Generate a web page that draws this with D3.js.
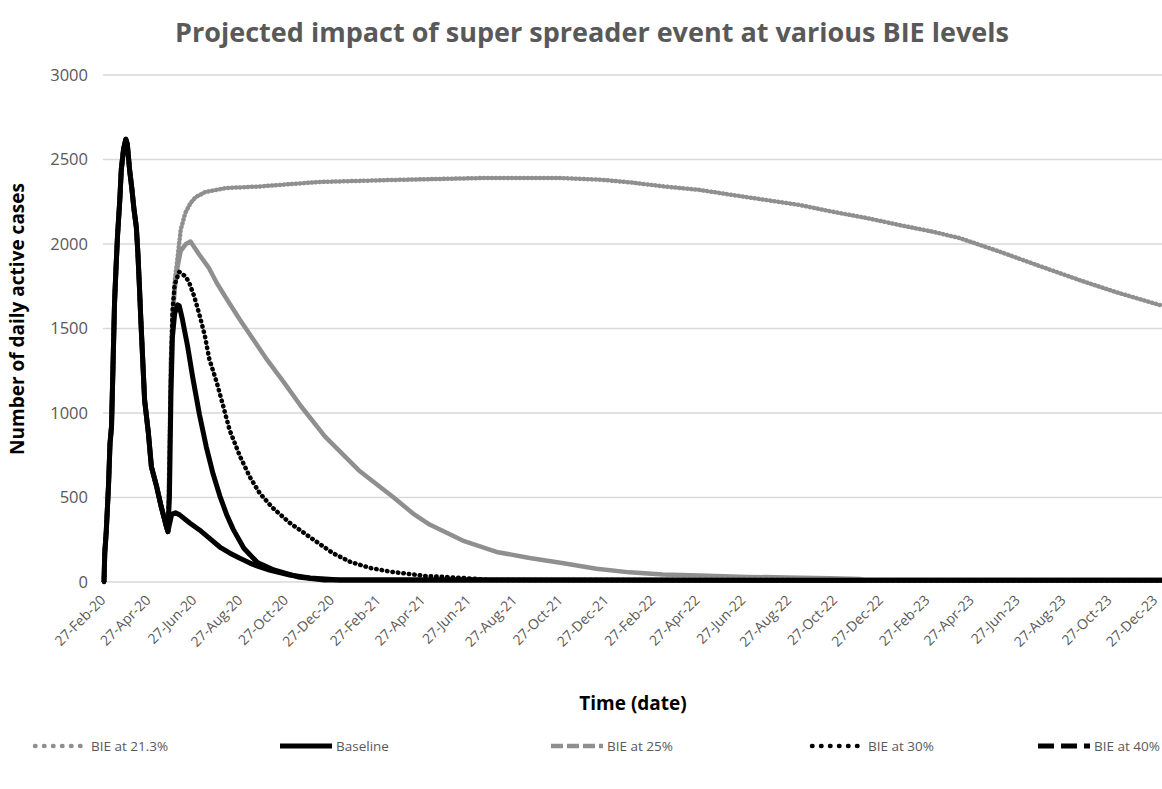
<!DOCTYPE html>
<html>
<head>
<meta charset="utf-8">
<script src="https://cdn.jsdelivr.net/npm/d3@7"></script>
<style>
  body { margin: 0; background: #fff; }
  text { font-family: "Open Sans", sans-serif; }
</style>
</head>
<body>
<script>
// values, [date, daily active cases]
// all scenarios share the same curve up to the super spreader event (~22 May 2020)
var preEvent = [
  ["2020-02-27", 0], ["2020-02-28", 170], ["2020-03-01", 300], ["2020-03-04", 570],
  ["2020-03-06", 820], ["2020-03-08", 920], ["2020-03-10", 1280], ["2020-03-12", 1650],
  ["2020-03-14", 1860], ["2020-03-16", 2050], ["2020-03-19", 2260], ["2020-03-21", 2440],
  ["2020-03-24", 2560], ["2020-03-27", 2620], ["2020-03-29", 2590], ["2020-04-01", 2440],
  ["2020-04-04", 2330], ["2020-04-07", 2200], ["2020-04-10", 2100], ["2020-04-12", 1950],
  ["2020-04-14", 1760], ["2020-04-16", 1550], ["2020-04-21", 1077], ["2020-04-26", 882],
  ["2020-04-30", 683], ["2020-05-07", 565], ["2020-05-13", 447], ["2020-05-20", 328],
  ["2020-05-22", 298]
];

var baselineAfter = [
  ["2020-05-24", 340], ["2020-05-27", 400], ["2020-06-01", 410], ["2020-06-07", 396],
  ["2020-06-20", 349], ["2020-07-03", 308], ["2020-07-16", 260], ["2020-07-30", 207],
  ["2020-08-12", 172], ["2020-08-25", 142], ["2020-09-08", 112], ["2020-09-21", 89],
  ["2020-10-04", 71], ["2020-10-31", 41], ["2020-11-27", 24], ["2021-01-06", 12],
  ["2024-01-04", 10]
];

var bie213After = [
  ["2020-05-24", 700], ["2020-05-26", 1300], ["2020-05-28", 1550], ["2020-05-31", 1780],
  ["2020-06-03", 1886], ["2020-06-08", 2083], ["2020-06-14", 2183], ["2020-06-21", 2242],
  ["2020-06-28", 2278], ["2020-07-11", 2308], ["2020-08-07", 2331], ["2020-09-20", 2340],
  ["2020-11-03", 2355], ["2020-12-09", 2367], ["2021-03-27", 2380], ["2021-07-12", 2390],
  ["2021-10-27", 2390], ["2021-12-20", 2380], ["2022-01-30", 2363], ["2022-03-16", 2339],
  ["2022-04-29", 2320], ["2022-06-12", 2290], ["2022-07-27", 2260], ["2022-09-09", 2231],
  ["2022-10-23", 2191], ["2022-12-07", 2154], ["2023-01-20", 2112], ["2023-03-05", 2073],
  ["2023-04-10", 2035], ["2023-06-02", 1955], ["2023-07-25", 1870], ["2023-09-16", 1787],
  ["2023-11-04", 1715], ["2024-01-01", 1639]
];

var bie25After = [
  ["2020-05-24", 700], ["2020-05-26", 1300], ["2020-05-28", 1550], ["2020-05-31", 1730],
  ["2020-06-03", 1846], ["2020-06-08", 1960], ["2020-06-15", 2000], ["2020-06-21", 2015],
  ["2020-07-03", 1935], ["2020-07-15", 1862], ["2020-07-26", 1769], ["2020-08-09", 1669],
  ["2020-08-26", 1550], ["2020-09-13", 1432], ["2020-10-01", 1314], ["2020-10-24", 1177],
  ["2020-11-15", 1040], ["2020-12-17", 860], ["2021-01-31", 660], ["2021-03-17", 505],
  ["2021-04-13", 405], ["2021-05-05", 340], ["2021-06-18", 245], ["2021-08-02", 178],
  ["2021-09-15", 142], ["2021-10-28", 112], ["2021-12-13", 78], ["2022-01-26", 57],
  ["2022-03-11", 44], ["2022-04-29", 38], ["2022-07-01", 30], ["2022-08-23", 27],
  ["2022-10-19", 22], ["2022-11-28", 18], ["2022-12-05", 10], ["2024-01-04", 10]
];

var bie30After = [
  ["2020-05-24", 600], ["2020-05-26", 1200], ["2020-05-28", 1600], ["2020-05-31", 1760],
  ["2020-06-06", 1835], ["2020-06-14", 1810], ["2020-06-19", 1775], ["2020-06-26", 1690],
  ["2020-07-03", 1580], ["2020-07-10", 1460], ["2020-07-16", 1320], ["2020-07-26", 1180],
  ["2020-08-03", 1050], ["2020-08-12", 900], ["2020-08-26", 742], ["2020-09-08", 621],
  ["2020-09-21", 526], ["2020-10-08", 440], ["2020-10-31", 350], ["2020-12-05", 240],
  ["2020-12-27", 172], ["2021-01-19", 120], ["2021-02-15", 83], ["2021-03-14", 61],
  ["2021-04-09", 47], ["2021-05-01", 35], ["2021-06-19", 24], ["2021-07-23", 12],
  ["2024-01-04", 10]
];

var bie40After = [
  ["2020-05-24", 500], ["2020-05-26", 1100], ["2020-05-28", 1450], ["2020-05-31", 1590],
  ["2020-06-04", 1640], ["2020-06-06", 1635], ["2020-06-10", 1560], ["2020-06-17", 1400],
  ["2020-06-24", 1210], ["2020-07-03", 990], ["2020-07-12", 800], ["2020-07-21", 640],
  ["2020-07-30", 510], ["2020-08-08", 400], ["2020-08-17", 310], ["2020-08-31", 200],
  ["2020-09-18", 115], ["2020-10-10", 71], ["2020-11-11", 30], ["2020-12-16", 12],
  ["2024-01-04", 10]
];

var seriesNames = ["BIE at 21.3%", "Baseline", "BIE at 25%", "BIE at 30%", "BIE at 40%"];

var xTickLabels = [
  "27-Feb-20", "27-Apr-20", "27-Jun-20", "27-Aug-20", "27-Oct-20", "27-Dec-20",
  "27-Feb-21", "27-Apr-21", "27-Jun-21", "27-Aug-21", "27-Oct-21", "27-Dec-21",
  "27-Feb-22", "27-Apr-22", "27-Jun-22", "27-Aug-22", "27-Oct-22", "27-Dec-22",
  "27-Feb-23", "27-Apr-23", "27-Jun-23", "27-Aug-23", "27-Oct-23", "27-Dec-23"
];
var yTicks = [0, 500, 1000, 1500, 2000, 2500, 3000];

var width = 1162, height = 789;
var plot = {left: 104, right: 1162, top: 75, bottom: 582};

var parseDate = d3.timeParse("%Y-%m-%d"),
    parseTick = d3.timeParse("%d-%b-%y");

// line look in the plot vs. the look of the legend key
var styles = [
  {color: "#8f8f8f", width: 4.5, dash: "0.5,3.5", cap: "round", key: "0.5,8.5"},
  {color: "#000000", width: 5,   dash: null,      cap: "butt",  key: null},
  {color: "#8f8f8f", width: 4.5, dash: null,      cap: "butt",  key: "12,4"},
  {color: "#000000", width: 4.5, dash: "0.5,5",   cap: "round", key: "0.5,8.5"},
  {color: "#000000", width: 5,   dash: null,      cap: "butt",  key: "16,7"}
];

var afters = [bie213After, baselineAfter, bie25After, bie30After, bie40After];
var series = seriesNames.map(function(name, i) {
  return {
    name: name,
    style: styles[i],
    values: preEvent.concat(afters[i]).map(function(d) {
      return {date: parseDate(d[0]), value: d[1]};
    })
  };
});

var x = d3.scaleTime()
  .domain([parseDate("2020-02-27"), parseDate("2024-01-04")])
  .range([plot.left, plot.right]);
var y = d3.scaleLinear().domain([0, 3000]).range([plot.bottom, plot.top]);

var svg = d3.select("body").append("svg")
  .attr("width", width)
  .attr("height", height);

svg.append("rect").attr("width", width).attr("height", height).attr("fill", "#fff");

// title
svg.append("text")
  .attr("x", 592)
  .attr("y", 42)
  .attr("text-anchor", "middle")
  .style("font-size", "27px")
  .style("font-weight", "bold")
  .style("fill", "#595959")
  .text("Projected impact of super spreader event at various BIE levels");

// gridlines
svg.append("g")
  .selectAll("line")
  .data(yTicks)
  .enter().append("line")
  .attr("x1", plot.left - 1)
  .attr("x2", plot.right)
  .attr("y1", function(d) { return y(d); })
  .attr("y2", function(d) { return y(d); })
  .attr("stroke", "#d9d9d9")
  .attr("stroke-width", 1.5);

// y axis labels
var yAxis = d3.axisLeft(y).tickValues(yTicks).tickFormat(d3.format("d")).tickSize(0).tickPadding(0);
svg.append("g")
  .attr("transform", "translate(88,0)")
  .call(yAxis)
  .call(function(g) { g.select(".domain").remove(); })
  .selectAll("text")
  .style("font-family", "'Open Sans', sans-serif")
  .style("font-size", "16.5px")
  .style("fill", "#595959");

svg.append("text")
  .attr("transform", "translate(24,319) rotate(-90)")
  .attr("text-anchor", "middle")
  .style("font-size", "19px")
  .style("font-weight", "bold")
  .text("Number of daily active cases");

// x axis labels, rotated
var xAxis = d3.axisBottom(x)
  .tickValues(xTickLabels.map(parseTick))
  .tickFormat(d3.timeFormat("%d-%b-%y"))
  .tickSize(0);
svg.append("g")
  .attr("transform", "translate(0," + plot.bottom + ")")
  .call(xAxis)
  .call(function(g) { g.select(".domain").remove(); })
  .selectAll("text")
  .attr("text-anchor", "end")
  .attr("x", 0)
  .attr("y", 0)
  .attr("dy", 0)
  .attr("transform", "translate(2,19) rotate(-45)")
  .style("font-family", "'Open Sans', sans-serif")
  .style("font-size", "14px")
  .style("fill", "#595959");

svg.append("text")
  .attr("x", (plot.left + plot.right) / 2)
  .attr("y", 710)
  .attr("text-anchor", "middle")
  .style("font-size", "19px")
  .style("font-weight", "bold")
  .text("Time (date)");

// lines
svg.append("clipPath").attr("id", "clip")
  .append("rect")
  .attr("x", plot.left - 3).attr("y", plot.top - 10)
  .attr("width", plot.right - plot.left + 3).attr("height", plot.bottom - plot.top + 14);

var line = d3.line()
  .x(function(d) { return x(d.date); })
  .y(function(d) { return y(d.value); });

svg.append("g")
  .attr("clip-path", "url(#clip)")
  .selectAll("path")
  .data(series)
  .enter().append("path")
  .attr("d", function(d) { return line(d.values); })
  .attr("fill", "none")
  .attr("stroke", function(d) { return d.style.color; })
  .attr("stroke-width", function(d) { return d.style.width; })
  .attr("stroke-dasharray", function(d) { return d.style.dash; })
  .attr("stroke-linecap", function(d) { return d.style.cap; })
  .attr("stroke-linejoin", "round");

// legend
var legendTextX = [91, 336, 607, 868, 1094];
var legend = svg.append("g")
  .selectAll("g")
  .data(series)
  .enter().append("g")
  .attr("transform", function(d, i) { return "translate(" + legendTextX[i] + ",746)"; });

legend.append("line")
  .attr("x1", -56).attr("x2", -4)
  .attr("y1", 0).attr("y2", 0)
  .attr("stroke", function(d) { return d.style.color; })
  .attr("stroke-width", function(d) { return d.style.width; })
  .attr("stroke-dasharray", function(d) { return d.style.key; })
  .attr("stroke-linecap", function(d) { return d.style.cap; });

legend.append("text")
  .attr("x", 0)
  .attr("y", 0)
  .attr("dy", "0.35em")
  .style("font-size", "13.5px")
  .style("fill", "#595959")
  .text(function(d) { return d.name; });
</script>
</body>
</html>
